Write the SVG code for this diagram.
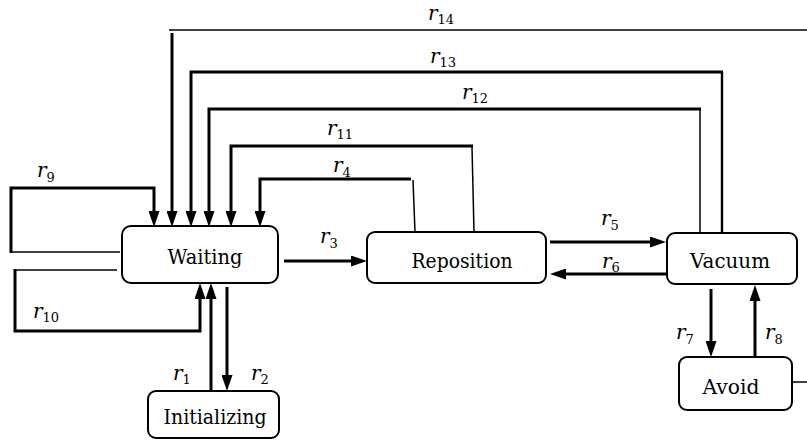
<svg xmlns="http://www.w3.org/2000/svg" width="807" height="441" viewBox="0 0 807 441">
  <style>
    .box { fill: #fff; stroke: #000; stroke-width: 2; }
    .name { font-family: 'DejaVu Serif', 'Liberation Serif', serif; font-size: 21px; text-anchor: middle; fill: #000; }
    .lbl { font-family: 'DejaVu Serif', 'Liberation Serif', serif; fill: #000; }
    .r { font-style: italic; font-size: 20px; }
    .sub { font-size: 13px; }
    .thick { fill: none; stroke: #000; stroke-width: 3; }
    .mid { fill: none; stroke: #000; stroke-width: 2.4; }
    .thin { fill: none; stroke: #000; stroke-width: 1.5; }
    .arr { marker-end: url(#head); }
  </style>
  <defs>
    <marker id="head" viewBox="0 0 16 11" markerWidth="16" markerHeight="11" refX="2" refY="5.5" orient="auto" markerUnits="userSpaceOnUse">
      <path d="M0,0 L16,5.5 L0,11 Z" fill="#000"/>
    </marker>
  </defs>

  <rect width="807" height="441" fill="#fff"/>

  <!-- transitions -->
  <g id="connectors">
    <!-- r14 -->
    <path class="thin" d="M169,30 H807"/>
    <path class="thick arr" d="M172,33 V213"/>
    <!-- r13 -->
    <path class="mid" d="M722,232 V72"/>
    <path class="thick arr" d="M723,72 H191 V213"/>
    <!-- r12 -->
    <path class="thin" d="M700,232 V109"/>
    <path class="thick arr" d="M701,109 H209 V213"/>
    <!-- r11 -->
    <path class="thin" d="M474,232 L472,147"/>
    <path class="thick arr" d="M473,146 H231 V213"/>
    <!-- r4 -->
    <path class="thin" d="M415,232 L413,180"/>
    <path class="thick arr" d="M411,179 H260 V213"/>
    <!-- r9 -->
    <path class="thin" d="M120,252 H11"/>
    <path class="thick arr" d="M11,253 V188 H154 V213"/>
    <!-- r10 -->
    <path class="thin" d="M117,270 H15"/>
    <path class="thick arr" d="M15,269 V331 H200 V297"/>
    <!-- r1 / r2 -->
    <path class="thick arr" d="M211,391 V297"/>
    <path class="thick arr" d="M227,287 V377"/>
    <!-- r3 -->
    <path class="thick arr" d="M284,261 H353"/>
    <!-- r5 / r6 -->
    <path class="thick arr" d="M550,242 H652"/>
    <path class="thick arr" d="M666,274 H564"/>
    <!-- r7 / r8 -->
    <path class="thick arr" d="M711,289 V343"/>
    <path class="thick arr" d="M755,357 V299"/>
    <!-- line leaving Avoid -->
    <path class="thin" d="M792,382 H807"/>
  </g>

  <!-- transition labels -->
  <g id="labels">
    <text class="lbl" x="428" y="20"><tspan class="r">r</tspan><tspan class="sub" dy="4">14</tspan></text>
    <text class="lbl" x="430" y="63"><tspan class="r">r</tspan><tspan class="sub" dy="4">13</tspan></text>
    <text class="lbl" x="462" y="99"><tspan class="r">r</tspan><tspan class="sub" dy="4">12</tspan></text>
    <text class="lbl" x="327" y="135"><tspan class="r">r</tspan><tspan class="sub" dy="4">11</tspan></text>
    <text class="lbl" x="333" y="172"><tspan class="r">r</tspan><tspan class="sub" dy="5">4</tspan></text>
    <text class="lbl" x="37" y="177"><tspan class="r">r</tspan><tspan class="sub" dy="5">9</tspan></text>
    <text class="lbl" x="33" y="318"><tspan class="r">r</tspan><tspan class="sub" dy="4">10</tspan></text>
    <text class="lbl" x="320" y="243"><tspan class="r">r</tspan><tspan class="sub" dy="5">3</tspan></text>
    <text class="lbl" x="601" y="225"><tspan class="r">r</tspan><tspan class="sub" dy="5">5</tspan></text>
    <text class="lbl" x="602" y="268"><tspan class="r">r</tspan><tspan class="sub" dy="4">6</tspan></text>
    <text class="lbl" x="676" y="339"><tspan class="r">r</tspan><tspan class="sub" dy="5">7</tspan></text>
    <text class="lbl" x="765" y="339"><tspan class="r">r</tspan><tspan class="sub" dy="5">8</tspan></text>
    <text class="lbl" x="173" y="380"><tspan class="r">r</tspan><tspan class="sub" dy="4">1</tspan></text>
    <text class="lbl" x="251" y="380"><tspan class="r">r</tspan><tspan class="sub" dy="4">2</tspan></text>
  </g>

  <!-- states -->
  <g id="waiting">
    <rect class="box" x="122" y="226" width="156" height="57" rx="9"/>
    <text class="name" x="205" y="264" textLength="75" lengthAdjust="spacingAndGlyphs">Waiting</text>
  </g>
  <g id="reposition">
    <rect class="box" x="367" y="232" width="179" height="51" rx="8"/>
    <text class="name" x="462" y="268" textLength="101" lengthAdjust="spacingAndGlyphs">Reposition</text>
  </g>
  <g id="vacuum">
    <rect class="box" x="667" y="233" width="130" height="51" rx="8"/>
    <text class="name" x="730" y="268" textLength="80" lengthAdjust="spacingAndGlyphs">Vacuum</text>
  </g>
  <g id="avoid">
    <rect class="box" x="679" y="357" width="113" height="53" rx="8"/>
    <text class="name" x="731" y="394" textLength="57" lengthAdjust="spacingAndGlyphs">Avoid</text>
  </g>
  <g id="initializing">
    <rect class="box" x="148" y="391" width="131" height="47" rx="8"/>
    <text class="name" x="215" y="424" textLength="103" lengthAdjust="spacingAndGlyphs">Initializing</text>
  </g>
</svg>
